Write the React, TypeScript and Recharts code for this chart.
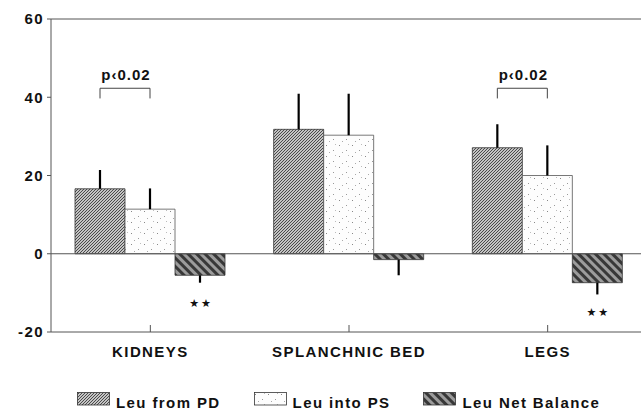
import React from "react";
import { BarChart, Bar, XAxis, YAxis, ErrorBar, ReferenceLine, LabelList, Legend } from "recharts";

const categories = ["KIDNEYS", "SPLANCHNIC BED", "LEGS"];
const leuFromPD = [16.6, 31.8, 27.1];
const leuFromPDErr = [4.8, 9.1, 6.0];
const leuIntoPS = [11.4, 30.3, 20.0];
const leuIntoPSErr = [5.3, 10.6, 7.7];
const leuNetBalance = [-5.5, -1.5, -7.4];
const leuNetBalanceErr = [1.9, 4.0, 3.0];
const yTicks = [-20, 0, 20, 40, 60];
const seriesNames = ["Leu from PD", "Leu into PS", "Leu Net Balance"];
const sigLabels = ["p‹0.02", "", "p‹0.02"];
const sigTextY = [45.8, 0, 45.8];
const bracketLow = 39.7;
const bracketHigh = 42.3;
const starLabels = ["★★", "", "★★"];
const starY = [-12.6, 0, -15.1];

const data = categories.map((name, i) => ({
  name,
  pd: leuFromPD[i],
  pdErr: [0, leuFromPDErr[i]],
  ps: leuIntoPS[i],
  psErr: [0, leuIntoPSErr[i]],
  net: leuNetBalance[i],
  netErr: [leuNetBalanceErr[i], 0],
}));

const FONT = "'Liberation Sans', Arial, Helvetica, sans-serif";
const fills = ["url(#pdPat)", "url(#psPat)", "url(#netPat)"];

const Patterns = () => (
  <svg width={0} height={0} style={{ position: "absolute", left: 0, top: 0 }}>
    <defs>
      <pattern id="pdPat" patternUnits="userSpaceOnUse" width={3} height={3}>
        <rect width={3} height={3} fill="#c4c4c4" />
        <path d="M-1,1 L1,-1 M0,3 L3,0 M2,4 L4,2" stroke="#4a4a4a" strokeWidth={1} />
      </pattern>
      <pattern id="psPat" patternUnits="userSpaceOnUse" width={13} height={11}>
        <rect width={13} height={11} fill="#fdfdfd" />
        <rect x={1} y={2} width={1} height={1} fill="#888" />
        <rect x={8} y={7} width={1} height={1} fill="#999" />
        <rect x={10} y={1} width={1} height={1} fill="#bbb" />
        <rect x={4} y={9} width={1} height={1} fill="#aaa" />
      </pattern>
      <pattern id="netPat" patternUnits="userSpaceOnUse" width={6} height={6} patternTransform="rotate(-45)">
        <rect width={6} height={6} fill="#9c9c9c" />
        <rect x={0} y={0} width={3} height={6} fill="#383838" />
      </pattern>
    </defs>
  </svg>
);

const Annotations = (props: any) => {
  const idx = categories.indexOf(props.value);
  const vb = props.viewBox ?? props;
  const { x, y, width, height } = vb;
  const v = leuFromPD[idx];
  if (idx < 0 || !v || !height) return null;
  const ppu = Math.abs(height) / v;
  const y0 = Math.max(y, y + height);
  const toY = (val: number) => y0 - val * ppu;
  const items: React.ReactNode[] = [];
  if (sigLabels[idx]) {
    const xa = x + width / 2;
    const xb = x + width * 1.5;
    items.push(
      <path
        key="br"
        d={`M${xa},${toY(bracketLow)} V${toY(bracketHigh)} H${xb} V${toY(bracketLow)}`}
        stroke="#444"
        strokeWidth={1}
        fill="none"
      />
    );
    items.push(
      <text
        key="sig"
        x={(xa + xb) / 2 + 1}
        y={toY(sigTextY[idx])}
        textAnchor="middle"
        dominantBaseline="central"
        fontFamily={FONT}
        fontWeight="bold"
        fontSize={15}
        fill="#111"
        style={{ letterSpacing: 1 }}
      >
        {sigLabels[idx]}
      </text>
    );
  }
  if (starLabels[idx]) {
    items.push(
      <text
        key="star"
        x={x + width * 2.5 + 1}
        y={toY(starY[idx])}
        textAnchor="middle"
        dominantBaseline="central"
        fontFamily="'DejaVu Sans', sans-serif"
        fontSize={11}
        fill="#111"
        style={{ letterSpacing: 2 }}
      >
        {starLabels[idx]}
      </text>
    );
  }
  return <g>{items}</g>;
};

const LegendContent = () => (
  <div
    style={{
      display: "flex",
      paddingLeft: 77,
      fontFamily: FONT,
      fontSize: 15,
      fontWeight: "bold",
      letterSpacing: 1.4,
      color: "#111",
    }}
  >
    {seriesNames.map((n, i) => (
      <div key={n} style={{ display: "flex", alignItems: "flex-start", marginRight: 33 }}>
        <svg width={34} height={14} style={{ display: "block" }}>
          <rect x={0.5} y={0.5} width={32} height={12.5} fill={fills[i]} stroke="#333" strokeWidth={0.8} />
        </svg>
        <span style={{ marginLeft: 5, lineHeight: "17px", marginTop: 2, whiteSpace: "nowrap" }}>{n}</span>
      </div>
    ))}
  </div>
);

const tickStyle = { fill: "#111", fontFamily: FONT, fontSize: 15, fontWeight: "bold", style: { letterSpacing: 1.4 } } as any;

export default function App() {
  return (
    <div style={{ position: "absolute", left: 0, top: 0, width: 641, height: 412, background: "#fff" }}>
      <Patterns />
      <BarChart
        width={641}
        height={412}
        data={data}
        margin={{ top: 19, right: -6, bottom: 50, left: 0 }}
        barSize={50}
        barGap={0}
      >
        <YAxis
          width={51}
          domain={[-20, 60]}
          ticks={yTicks}
          interval={0}
          axisLine={{ stroke: "#555", strokeWidth: 1 }}
          tickLine={{ stroke: "#555" }}
          tickSize={4}
          tickMargin={3}
          tick={tickStyle}
        />
        <XAxis
          dataKey="name"
          height={30}
          axisLine={{ stroke: "#555", strokeWidth: 1 }}
          tickLine={{ stroke: "#555" }}
          tickSize={-7}
          tickMargin={21}
          interval={0}
          tick={tickStyle}
        />
        <ReferenceLine y={60} stroke="#555" strokeWidth={1} />
        <ReferenceLine y={0} stroke="#555" strokeWidth={1} />
        <Bar dataKey="pd" name={seriesNames[0]} fill={fills[0]} stroke="#333" strokeWidth={0.8} isAnimationActive={false}>
          <ErrorBar dataKey="pdErr" width={0} stroke="#000" strokeWidth={2.2} direction="y" />
          <LabelList dataKey="name" content={Annotations} />
        </Bar>
        <Bar dataKey="ps" name={seriesNames[1]} fill={fills[1]} stroke="#555" strokeWidth={0.8} isAnimationActive={false}>
          <ErrorBar dataKey="psErr" width={0} stroke="#000" strokeWidth={2.2} direction="y" />
        </Bar>
        <Bar dataKey="net" name={seriesNames[2]} fill={fills[2]} stroke="#333" strokeWidth={0.8} isAnimationActive={false}>
          <ErrorBar dataKey="netErr" width={0} stroke="#000" strokeWidth={2.2} direction="y" />
        </Bar>
        <Legend
          layout="horizontal"
          verticalAlign="middle"
          align="center"
          content={LegendContent}
          wrapperStyle={{ top: 392, left: 0, width: 641, height: 20 }}
        />
      </BarChart>
    </div>
  );
}
